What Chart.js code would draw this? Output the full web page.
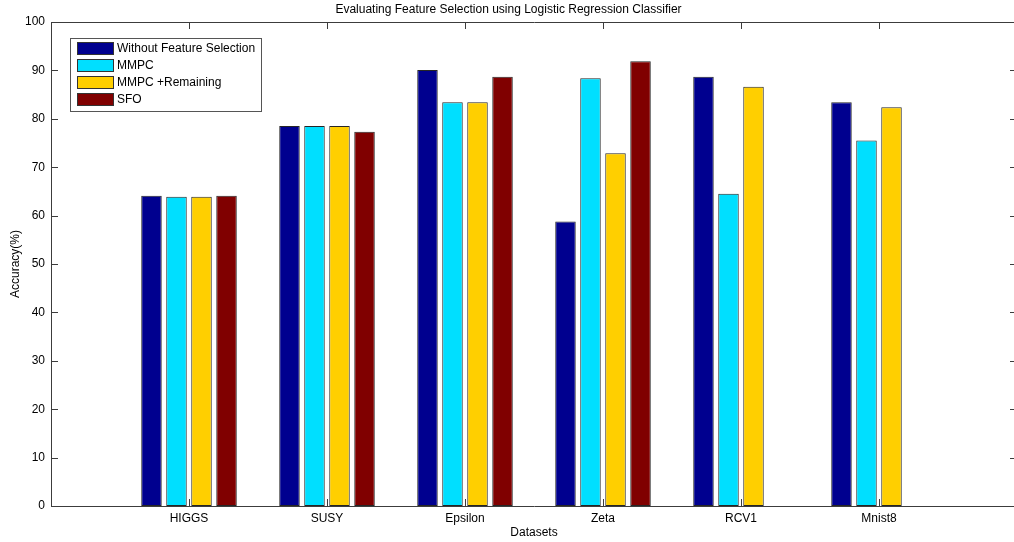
<!DOCTYPE html>
<html>
<head>
<meta charset="utf-8">
<script src="https://cdn.jsdelivr.net/npm/chart.js@4.4.1/dist/chart.umd.min.js"></script>
<style>
  html, body { margin: 0; padding: 0; background: #fff; overflow: hidden; }
  #wrap { width: 1024px; height: 542px; position: relative; }
</style>
</head>
<body>
<div id="wrap"><canvas id="grafico"></canvas></div>
<script>
// dados
const categorias = ['HIGGS', 'SUSY', 'Epsilon', 'Zeta', 'RCV1', 'Mnist8'];
const semSelecao = [64.1, 78.5, 90.1, 58.8, 88.7, 83.4];
const mmpc = [63.9, 78.5, 83.4, 88.4, 64.5, 75.5];
const mmpcRestante = [63.9, 78.5, 83.4, 72.9, 86.6, 82.4];
const sfo = [64.1, 77.3, 88.7, 91.9, null, null];
const nomesSeries = ['Without Feature Selection', 'MMPC', 'MMPC +Remaining', 'SFO'];
const coresSeries = ['#00008F', '#00DFFF', '#FFCF00', '#800000'];
const ticksY = [0, 10, 20, 30, 40, 50, 60, 70, 80, 90, 100];

const corEixo = '#3c3c3c';
const fonte = 'Liberation Sans, Arial, sans-serif';

// eixo x do matlab vai de 0 a 7, entao sobra uma posicao vazia em cada ponta
const rotulos = ['', ...categorias, ''];
const comPontas = arr => [null, ...arr, null];

const series = [semSelecao, mmpc, mmpcRestante, sfo];

// --- moldura + ticks para dentro + legenda (estilo matlab) ---
const molduraPlugin = {
    id: 'moldura',
    afterDraw(chart) {
        const ctx = chart.ctx;
        const a = chart.chartArea;
        const sx = chart.scales.x, sy = chart.scales.y;
        const L = Math.round(a.left), R = Math.round(a.right);
        const T = Math.round(a.top), B = Math.round(a.bottom);
        const tam = 7;

        ctx.save();
        ctx.strokeStyle = corEixo;
        ctx.lineWidth = 1;
        ctx.beginPath();
        ctx.rect(L + 0.5, T + 0.5, R - L, B - T);

        sy.ticks.forEach((t, i) => {
            const y = Math.round(sy.getPixelForTick(i)) + 0.5;
            ctx.moveTo(L, y); ctx.lineTo(L + tam, y);
            ctx.moveTo(R, y); ctx.lineTo(R - tam, y);
        });
        sx.ticks.forEach((t, i) => {
            const x = Math.round(sx.getPixelForTick(i)) + 0.5;
            ctx.moveTo(x, B); ctx.lineTo(x, B - tam);
            ctx.moveTo(x, T); ctx.lineTo(x, T + tam);
        });
        ctx.stroke();

        // legenda
        const x0 = L + 19, y0 = T + 16;
        ctx.fillStyle = '#fff';
        ctx.fillRect(x0, y0, 191, 73);
        ctx.strokeStyle = '#555';
        ctx.strokeRect(x0 + 0.5, y0 + 0.5, 191, 73);
        ctx.font = '12px ' + fonte;
        ctx.textBaseline = 'middle';
        chart.data.datasets.forEach((ds, i) => {
            const yy = y0 + 4 + i * 17;
            ctx.fillStyle = ds.backgroundColor;
            ctx.fillRect(x0 + 7, yy, 37, 13);
            ctx.strokeStyle = '#333';
            ctx.strokeRect(x0 + 7.5, yy + 0.5, 36, 12);
            ctx.fillStyle = '#000';
            ctx.fillText(ds.label, x0 + 47, yy + 7);
        });
        ctx.restore();
    }
};

const ctx = document.getElementById('grafico').getContext('2d');
new Chart(ctx, {
    type: 'bar',
    data: {
        labels: rotulos,
        datasets: series.map((s, i) => ({
            label: nomesSeries[i],
            data: comPontas(s),
            backgroundColor: coresSeries[i],
            borderColor: '#262626',
            borderWidth: 1,
            borderSkipped: false,
            categoryPercentage: 0.725,
            barPercentage: 0.82
        }))
    },
    options: {
        responsive: true,
        maintainAspectRatio: false,
        animation: false,
        devicePixelRatio: 1,
        layout: { padding: { left: 0, right: 7, top: 0, bottom: 0 } },
        plugins: {
            legend: { display: false },
            tooltip: { enabled: false },
            title: {
                display: true,
                text: 'Evaluating Feature Selection using Logistic Regression Classifier',
                color: '#000',
                font: { family: fonte, size: 12, weight: 'normal' },
                padding: { top: 2, bottom: 5.6 }
            }
        },
        scales: {
            x: {
                offset: false,
                grid: { display: false, drawTicks: false },
                border: { display: false },
                ticks: {
                    autoSkip: false, maxRotation: 0, minRotation: 0,
                    color: '#000', padding: 5,
                    font: { family: fonte, size: 12 }
                },
                title: {
                    display: true, text: 'Datasets', color: '#000',
                    font: { family: fonte, size: 12 },
                    padding: { top: 0, bottom: 2 }
                },
                afterFit(s) { s.height = 36; }
            },
            y: {
                min: 0, max: 100,
                grid: { display: false, drawTicks: false },
                border: { display: false },
                afterBuildTicks(s) { s.ticks = ticksY.map(v => ({ value: v })); },
                ticks: {
                    color: '#000', padding: 6,
                    font: { family: fonte, size: 12 }
                },
                title: {
                    display: true, text: 'Accuracy(%)', color: '#000',
                    font: { family: fonte, size: 12 },
                    padding: { top: 8, bottom: 0 }
                },
                afterFit(s) { s.width = 51; }
            }
        }
    },
    plugins: [molduraPlugin]
});
</script>
</body>
</html>
